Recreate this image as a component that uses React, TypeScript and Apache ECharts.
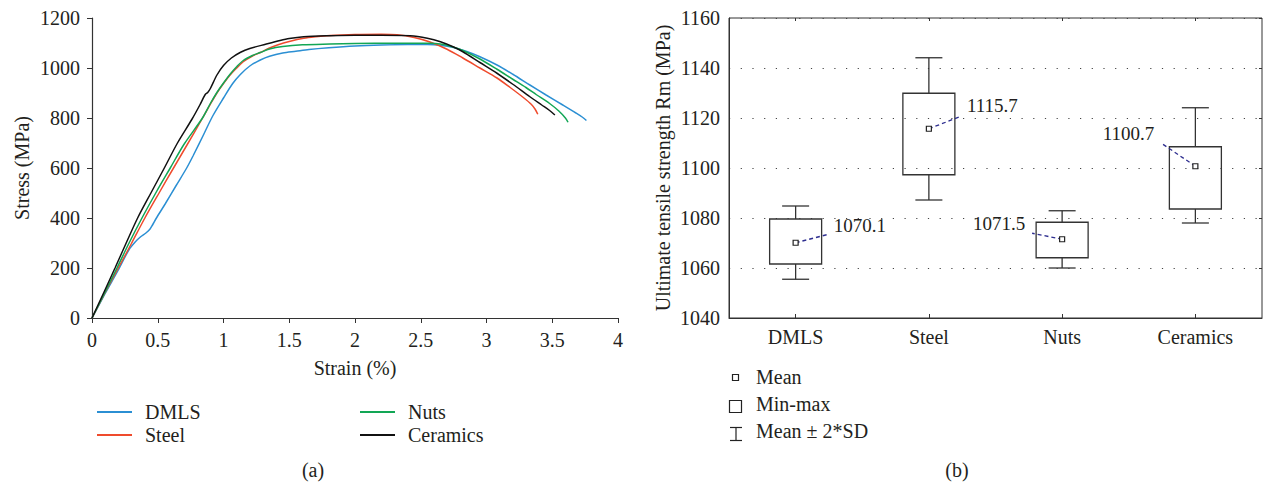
import React, { useEffect, useRef } from 'react';
import * as echarts from 'echarts';

const FONT = 'Liberation Serif, DejaVu Serif, serif';
const TEXT = '#231f20';
const AXIS = '#333333';

// ---- (a) stress–strain curves: [strain %, stress MPa]
const dmlsCurve = [
  [0, 0], [0.1, 98], [0.2, 192], [0.28, 272], [0.33, 305], [0.37, 325], [0.41, 340], [0.44, 355],
  [0.46, 372], [0.49, 400], [0.555, 455], [0.64, 530], [0.72, 600], [0.77, 650], [0.85, 735],
  [0.92, 810], [1.0, 880], [1.07, 938], [1.13, 975], [1.2, 1008], [1.28, 1032], [1.35, 1047],
  [1.45, 1060], [1.55, 1067], [1.65, 1074], [1.8, 1081], [2.0, 1088], [2.2, 1092], [2.4, 1094],
  [2.55, 1094], [2.65, 1091], [2.75, 1082], [2.85, 1066], [2.95, 1045], [3.08, 1012], [3.2, 975],
  [3.33, 932], [3.45, 893], [3.58, 852], [3.68, 820], [3.73, 803], [3.76, 790],
];
const steelCurve = [
  [0, 0], [0.1, 102], [0.2, 200], [0.3, 298], [0.4, 398], [0.51, 500], [0.62, 600], [0.72, 690],
  [0.83, 790], [0.9, 855], [0.95, 900], [1.0, 938], [1.05, 972], [1.1, 1000], [1.15, 1025],
  [1.22, 1048], [1.28, 1062], [1.35, 1080], [1.41, 1092], [1.5, 1106], [1.61, 1119], [1.7, 1125],
  [1.81, 1130], [2.0, 1134], [2.2, 1135], [2.32, 1133], [2.45, 1122], [2.57, 1104], [2.7, 1075],
  [2.82, 1040], [2.95, 1000], [3.08, 960], [3.18, 922], [3.28, 882], [3.34, 855], [3.37, 835],
  [3.39, 815],
];
const nutsCurve = [
  [0, 0], [0.1, 104], [0.19, 200], [0.28, 298], [0.38, 400], [0.49, 505], [0.595, 600], [0.7, 695],
  [0.84, 800], [0.9, 858], [0.95, 902], [1.0, 940], [1.05, 975], [1.1, 1005], [1.15, 1030],
  [1.22, 1050], [1.28, 1062], [1.35, 1076], [1.45, 1086], [1.6, 1093], [1.81, 1096], [2.0, 1098],
  [2.3, 1099], [2.57, 1099], [2.65, 1096], [2.72, 1088], [2.82, 1070], [2.95, 1036], [3.08, 995],
  [3.2, 955], [3.3, 922], [3.38, 893], [3.48, 858], [3.55, 828], [3.6, 800], [3.62, 783],
];
const ceramicsCurve = [
  [0, 0], [0.09, 102], [0.175, 200], [0.26, 300], [0.347, 400], [0.45, 502], [0.55, 600],
  [0.65, 700], [0.76, 795], [0.82, 852], [0.86, 893], [0.88, 902], [0.9, 918], [0.95, 972],
  [1.0, 1010], [1.06, 1040], [1.13, 1063], [1.2, 1078], [1.32, 1095], [1.43, 1110], [1.5, 1118],
  [1.61, 1125], [1.81, 1129], [2.0, 1131], [2.2, 1131], [2.42, 1129], [2.55, 1119], [2.65, 1105],
  [2.75, 1084], [2.82, 1065], [2.95, 1022], [3.08, 979], [3.2, 935], [3.33, 885], [3.42, 852],
  [3.48, 830], [3.52, 812],
];
const curveNames = ['DMLS', 'Steel', 'Nuts', 'Ceramics'];
const curveColors = ['#2b8fd3', '#ef4b2d', '#12a655', '#111111'];
const strainTicks = [0, 0.5, 1, 1.5, 2, 2.5, 3, 3.5, 4];

// ---- (b) ultimate tensile strength
const categories = ['DMLS', 'Steel', 'Nuts', 'Ceramics'];
const sdLow = [1055.5, 1087.2, 1060.0, 1078.0];   // mean - 2*SD
const boxMin = [1061.6, 1097.3, 1064.1, 1083.6];  // min
const boxMax = [1079.6, 1129.9, 1078.3, 1108.5];  // max
const sdHigh = [1084.8, 1144.1, 1082.9, 1124.1];  // mean + 2*SD
const means = [1070.1, 1115.7, 1071.5, 1100.7];

// callout layout (pixels relative to the mean marker): leader end, text anchor, alignment
const calloutLeader = [[31, -8], [31, -12], [-30, -6], [-34, -23]];
const calloutText = [[38, -17], [38, -23], [-37, -16], [-41, -33]];
const calloutAlign = ['left', 'left', 'right', 'right'];

function txt(text: string, x: number, y: number, align = 'left', size = 20) {
  return {
    type: 'text', x, y, silent: true,
    style: {
      text, font: `${size}px ${FONT}`, fill: TEXT,
      align, verticalAlign: 'middle', textAlign: align, textVerticalAlign: 'middle',
    },
  };
}

function renderBox(params: any, api: any) {
  const i = api.value(0);
  const x = api.coord([i, 0])[0];
  const yLo = api.coord([i, api.value(1)])[1];
  const yBMin = api.coord([i, api.value(2)])[1];
  const yBMax = api.coord([i, api.value(3)])[1];
  const yHi = api.coord([i, api.value(4)])[1];
  const yMean = api.coord([i, api.value(5)])[1];
  const halfBox = 26;
  const halfCap = 13.5;
  const stroke = { stroke: AXIS, lineWidth: 1.3 };
  const [lx, ly] = calloutLeader[i];
  const [tx, ty] = calloutText[i];
  const al = calloutAlign[i];
  return {
    type: 'group',
    children: [
      { type: 'line', shape: { x1: x, y1: yBMax, x2: x, y2: yHi }, style: stroke },
      { type: 'line', shape: { x1: x - halfCap, y1: yHi, x2: x + halfCap, y2: yHi }, style: stroke },
      { type: 'line', shape: { x1: x, y1: yBMin, x2: x, y2: yLo }, style: stroke },
      { type: 'line', shape: { x1: x - halfCap, y1: yLo, x2: x + halfCap, y2: yLo }, style: stroke },
      {
        type: 'rect', shape: { x: x - halfBox, y: yBMax, width: halfBox * 2, height: yBMin - yBMax },
        style: { fill: 'none', ...stroke },
      },
      {
        type: 'line', shape: { x1: x, y1: yMean, x2: x + lx, y2: yMean + ly },
        style: { stroke: '#2d2d8f', lineWidth: 1.3, lineDash: [4, 3] },
      },
      {
        type: 'rect', shape: { x: x - 2.5, y: yMean - 2.5, width: 5, height: 5 },
        style: { fill: '#ffffff', stroke: '#222', lineWidth: 1.2 },
      },
      {
        type: 'text', x: x + tx, y: yMean + ty,
        style: {
          text: means[i].toFixed(1), font: `19px ${FONT}`, fill: TEXT,
          align: al, verticalAlign: 'middle', textAlign: al, textVerticalAlign: 'middle',
        },
      },
    ],
  };
}

export default function App() {
  const ref = useRef<HTMLDivElement>(null);
  useEffect(() => {
    const chart = echarts.init(ref.current!, null, { renderer: 'svg' });
    const axisLabel = { fontFamily: FONT, fontSize: 20, color: TEXT };
    const nameStyle = { fontFamily: FONT, fontSize: 20, color: TEXT };
    const curves = [dmlsCurve, steelCurve, nutsCurve, ceramicsCurve];
    const legendCommon = {
      orient: 'vertical', itemWidth: 35, itemHeight: 2, itemGap: 3, selectedMode: false, icon: 'rect',
      textStyle: { fontFamily: FONT, fontSize: 20, color: TEXT, lineHeight: 20, padding: [0, 0, 0, 8] },
    };
    const option: any = {
      animation: false,
      backgroundColor: '#ffffff',
      textStyle: { fontFamily: FONT },
      grid: [
        { left: 92, top: 18, width: 526, height: 300 },
        { left: 729, top: 18, width: 533, height: 300, show: true, borderColor: AXIS, borderWidth: 1 },
      ],
      legend: [
        { ...legendCommon, left: 92, top: 397, data: ['DMLS', 'Steel'] },
        { ...legendCommon, left: 355, top: 397, data: ['Nuts', 'Ceramics'] },
      ],
      xAxis: [
        {
          gridIndex: 0, type: 'value', min: 0, max: 4, interval: 0.5,
          axisLine: { show: true, lineStyle: { color: AXIS, width: 1.2 } },
          axisTick: { show: true, length: 5, lineStyle: { color: AXIS } },
          axisLabel: { ...axisLabel, margin: 12, formatter: (v: number) => (strainTicks.includes(v) ? String(v) : '') },
          splitLine: { show: false },
          name: 'Strain (%)', nameLocation: 'middle', nameGap: 40, nameTextStyle: nameStyle,
        },
        {
          gridIndex: 1, type: 'category', data: categories, boundaryGap: true,
          axisLine: { show: true, lineStyle: { color: AXIS } },
          axisTick: { show: true, inside: true, alignWithLabel: true, length: 4, lineStyle: { color: AXIS } },
          axisLabel: { ...axisLabel, margin: 9 },
          splitLine: { show: false },
        },
        {
          gridIndex: 1, type: 'category', data: categories, boundaryGap: true, position: 'top',
          axisLine: { show: false },
          axisTick: { show: true, inside: true, alignWithLabel: true, length: 3, lineStyle: { color: AXIS } },
          axisLabel: { show: false },
          splitLine: { show: false },
        },
      ],
      yAxis: [
        {
          gridIndex: 0, type: 'value', min: 0, max: 1200, interval: 200,
          axisLine: { show: true, lineStyle: { color: AXIS, width: 1.2 } },
          axisTick: { show: true, length: 5, lineStyle: { color: AXIS } },
          axisLabel: { ...axisLabel, margin: 12, formatter: (v: number) => String(v) },
          splitLine: { show: false },
          name: 'Stress (MPa)', nameLocation: 'middle', nameGap: 60, nameTextStyle: nameStyle,
        },
        {
          gridIndex: 1, type: 'value', min: 1040, max: 1160, interval: 20,
          axisLine: { show: true, lineStyle: { color: AXIS } },
          axisTick: { show: false },
          axisLabel: { ...axisLabel, margin: 9, formatter: (v: number) => String(v) },
          splitLine: { show: true, lineStyle: { color: '#444', width: 1.2, type: [1.2, 10.5] } },
          name: 'Ultimate tensile strength Rm (MPa)', nameLocation: 'middle', nameGap: 56,
          nameTextStyle: nameStyle,
        },
        {
          gridIndex: 1, type: 'value', min: 1040, max: 1160, interval: 20, position: 'right',
          axisLine: { show: false },
          axisTick: { show: true, inside: true, length: 3, lineStyle: { color: AXIS } },
          axisLabel: { show: false },
          splitLine: { show: false },
        },
      ],
      series: [
        ...curves.map((data, k) => ({
          name: curveNames[k], type: 'line', xAxisIndex: 0, yAxisIndex: 0,
          data, symbol: 'none', showSymbol: false, smooth: 0.3,
          color: curveColors[k],
          lineStyle: { color: curveColors[k], width: 1.5 },
          z: k === 3 ? 4 : 3,
        })),
        {
          type: 'custom', xAxisIndex: 1, yAxisIndex: 1, clip: false,
          renderItem: renderBox,
          encode: { x: 0, y: [1, 2, 3, 4, 5] },
          data: categories.map((c, i) => [i, sdLow[i], boxMin[i], boxMax[i], sdHigh[i], means[i]]),
          z: 5,
        },
      ],
      graphic: [
        // (b) legend
        { type: 'rect', shape: { x: 732.5, y: 374.5, width: 6, height: 6 }, style: { fill: '#fff', stroke: '#222', lineWidth: 1.2 } },
        { type: 'rect', shape: { x: 729.5, y: 400.5, width: 12, height: 12 }, style: { fill: '#fff', stroke: '#222', lineWidth: 1.2 } },
        { type: 'line', shape: { x1: 730, y1: 427.5, x2: 742, y2: 427.5 }, style: { stroke: '#222', lineWidth: 1.2 } },
        { type: 'line', shape: { x1: 736, y1: 427.5, x2: 736, y2: 440.5 }, style: { stroke: '#222', lineWidth: 1.2 } },
        { type: 'line', shape: { x1: 730, y1: 440.5, x2: 742, y2: 440.5 }, style: { stroke: '#222', lineWidth: 1.2 } },
        txt('Mean', 756, 377),
        txt('Min-max', 756, 404),
        txt('Mean ± 2*SD', 756, 431),
        // captions
        txt('(a)', 313, 470, 'center'),
        txt('(b)', 957, 470, 'center'),
      ],
    };
    chart.setOption(option);
    return () => chart.dispose();
  }, []);
  return <div ref={ref} style={{ position: 'fixed', left: 0, top: 0, width: 1263, height: 483, background: '#fff' }} />;
}
